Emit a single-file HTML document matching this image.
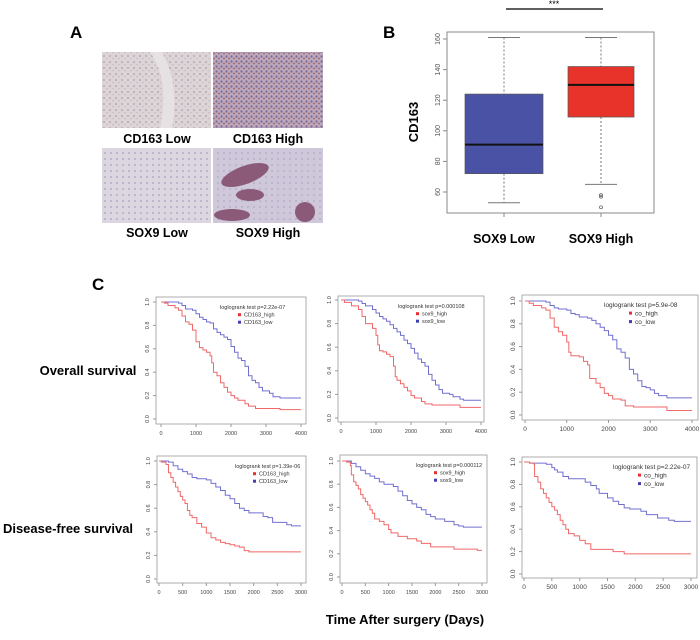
<!DOCTYPE html>
<html><head><meta charset="utf-8"><style>
body{margin:0;background:#fff;width:700px;height:640px;overflow:hidden;font-family:"Liberation Sans",Arial,sans-serif}
svg{display:block}
</style></head><body>
<svg id="fig" width="700" height="640" viewBox="0 0 700 640">
<defs>
<pattern id="tissueA" width="6" height="6" patternUnits="userSpaceOnUse"><rect width="6" height="6" fill="#ddd4d6"/><circle cx="2" cy="2" r="1" fill="#b4a8c0"/><circle cx="5" cy="4.5" r="0.8" fill="#c6b8c8"/></pattern>
<pattern id="tissueB" width="5" height="5" patternUnits="userSpaceOnUse"><rect width="5" height="5" fill="#bba8bc"/><circle cx="1.5" cy="1.5" r="1.1" fill="#7c6898"/><circle cx="4" cy="3.5" r="0.9" fill="#9a6060"/></pattern>
<pattern id="tissueC" width="6" height="6" patternUnits="userSpaceOnUse"><rect width="6" height="6" fill="#dcd6e0"/><circle cx="3" cy="3" r="1" fill="#b6acc8"/></pattern>
<pattern id="tissueD" width="6" height="6" patternUnits="userSpaceOnUse"><rect width="6" height="6" fill="#cfc8da"/><circle cx="2" cy="3" r="0.9" fill="#b0a6c6"/></pattern>
</defs>
<g font-weight="bold" fill="#000">
<text x="70" y="38" font-size="17">A</text>
<text x="383" y="38" font-size="17">B</text>
<text x="92" y="290" font-size="17">C</text>
</g>
<g>
<rect x="102" y="52" width="109" height="76" fill="url(#tissueA)"/>
<path d="M150 52 Q170 80 160 128 L172 128 Q180 85 162 52Z" fill="#e6e2e4"/>
<rect x="213" y="52" width="110" height="76" fill="url(#tissueB)"/>
<rect x="102" y="148" width="109" height="75" fill="url(#tissueC)"/>
<rect x="213" y="148" width="110" height="75" fill="url(#tissueD)"/>
<g fill="#8a5a78">
<ellipse cx="245" cy="175" rx="25" ry="9" transform="rotate(-20 245 175)"/>
<ellipse cx="250" cy="195" rx="14" ry="6"/>
<ellipse cx="232" cy="215" rx="18" ry="6"/>
<ellipse cx="305" cy="212" rx="10" ry="10"/>
</g>
</g>
<g font-size="12.5" font-weight="bold" text-anchor="middle">
<text x="157" y="143">CD163 Low</text>
<text x="268" y="143">CD163 High</text>
<text x="157" y="237">SOX9 Low</text>
<text x="268" y="237">SOX9 High</text>
</g>
<g id="boxplot"></g>
<g id="km"></g>
<g font-size="13" font-weight="bold" text-anchor="middle">
<text x="88" y="375">Overall survival</text>
<text x="68" y="533">Disease-free survival</text>
<text x="405" y="624">Time After surgery (Days)</text>
</g>
</svg>
<script>
const boxGroups = ["SOX9 Low","SOX9 High"];
const boxQ1 = [72,109];
const boxMedian = [91,130];
const boxQ3 = [124,142];
const boxWhiskLow = [53,65];
const boxWhiskHigh = [161,161];
const boxOutliers = [[],[58,57,50]];
const boxTicks = [60,80,100,120,140,160];

const os_cd163_high=[[0,1],[100,.99],[200,.97],[400,.95],[500,.93],[600,.88],[700,.83],[800,.81],[900,.76],[1000,.66],[1100,.61],[1200,.59],[1300,.57],[1400,.54],[1450,.48],[1500,.40],[1600,.37],[1700,.31],[1800,.27],[1900,.23],[2000,.20],[2100,.18],[2200,.16],[2400,.13],[2500,.11],[2700,.09],[3400,.08],[4000,.08]];
const os_cd163_low=[[0,1],[500,.99],[600,.97],[700,.94],[900,.93],[1000,.90],[1100,.87],[1200,.85],[1300,.83],[1400,.82],[1500,.77],[1600,.74],[1700,.72],[1800,.70],[1900,.68],[2000,.62],[2100,.57],[2200,.52],[2300,.50],[2400,.45],[2500,.37],[2600,.33],[2700,.31],[2800,.27],[2900,.24],[3100,.22],[3200,.19],[3400,.18],[4000,.18]];
const os_sox9_high=[[0,1],[100,.98],[300,.95],[500,.92],[600,.86],[700,.80],[900,.76],[1000,.70],[1050,.62],[1100,.57],[1200,.56],[1300,.54],[1400,.52],[1500,.44],[1550,.35],[1600,.32],[1700,.29],[1800,.26],[1900,.23],[2000,.19],[2100,.17],[2300,.14],[2400,.12],[2600,.11],[3400,.09],[4000,.09]];
const os_sox9_low=[[0,1],[500,.99],[600,.97],[700,.95],[900,.92],[1000,.89],[1100,.86],[1200,.84],[1300,.82],[1400,.79],[1500,.76],[1600,.73],[1700,.70],[1800,.66],[1900,.63],[2000,.59],[2100,.55],[2200,.50],[2300,.47],[2400,.44],[2500,.37],[2600,.32],[2700,.28],[2800,.24],[2900,.21],[3100,.20],[3200,.18],[3400,.16],[3500,.15],[4000,.15]];
const os_co_high=[[0,1],[100,.98],[200,.96],[400,.94],[500,.92],[600,.85],[700,.77],[800,.73],[900,.70],[1000,.64],[1050,.55],[1100,.52],[1300,.51],[1400,.47],[1500,.44],[1550,.32],[1700,.28],[1800,.24],[1900,.19],[2000,.17],[2100,.14],[2300,.13],[2400,.08],[2600,.07],[3400,.04],[4000,.04]];
const os_co_low=[[0,1],[500,.99],[600,.96],[700,.94],[800,.93],[1000,.92],[1100,.89],[1200,.88],[1300,.86],[1500,.85],[1600,.83],[1700,.80],[1800,.77],[1900,.74],[2000,.70],[2100,.66],[2200,.58],[2300,.55],[2400,.50],[2500,.40],[2600,.36],[2700,.30],[2800,.25],[2900,.24],[3000,.22],[3100,.19],[3200,.17],[3400,.15],[4000,.15]];
const dfs_cd163_high=[[0,1],[50,.99],[150,.97],[200,.90],[250,.86],[300,.82],[350,.78],[400,.74],[450,.70],[500,.67],[550,.64],[600,.58],[650,.54],[700,.52],[800,.47],[900,.44],[1000,.39],[1100,.35],[1200,.33],[1300,.31],[1400,.30],[1500,.29],[1600,.28],[1700,.27],[1800,.24],[1900,.23],[3000,.23]];
const dfs_cd163_low=[[0,1],[200,.99],[300,.96],[400,.93],[500,.91],[600,.89],[700,.86],[800,.85],[1000,.84],[1100,.81],[1200,.78],[1300,.75],[1400,.71],[1500,.68],[1600,.64],[1700,.60],[1800,.58],[1900,.56],[2200,.53],[2300,.52],[2400,.48],[2700,.46],[2800,.45],[3000,.45]];
const dfs_sox9_high=[[0,1],[100,.99],[180,.96],[200,.88],[250,.82],[300,.79],[350,.76],[400,.71],[450,.68],[500,.65],[550,.62],[600,.58],[650,.55],[700,.50],[800,.48],[900,.45],[1000,.41],[1050,.38],[1200,.35],[1400,.33],[1600,.31],[1700,.29],[1900,.26],[2400,.24],[2900,.23],[3000,.23]];
const dfs_sox9_low=[[0,1],[200,.98],[300,.95],[400,.92],[500,.89],[600,.87],[700,.85],[800,.82],[900,.80],[1100,.78],[1200,.74],[1300,.70],[1400,.66],[1500,.63],[1600,.60],[1700,.58],[1800,.54],[1900,.52],[2000,.50],[2200,.48],[2400,.45],[2500,.44],[2600,.43],[3000,.43]];
const dfs_co_high=[[0,1],[100,.99],[180,.98],[190,.87],[250,.82],[300,.76],[350,.72],[400,.68],[450,.64],[500,.60],[550,.57],[600,.53],[650,.48],[700,.44],[750,.40],[800,.36],[900,.34],[1000,.30],[1100,.27],[1200,.22],[1600,.20],[1800,.18],[3000,.18]];
const dfs_co_low=[[0,1],[100,.99],[400,.98],[500,.95],[550,.93],[600,.91],[700,.87],[800,.85],[1050,.85],[1100,.82],[1200,.79],[1300,.76],[1350,.72],[1500,.68],[1600,.65],[1700,.62],[1800,.59],[1900,.58],[2100,.56],[2200,.53],[2400,.50],[2600,.48],[2700,.47],[3000,.47]];
const pValues = ["2.22e-07","0.000108","5.9e-08","1.39e-06","0.000112","2.22e-07"];
const groupNames = ["CD163","sox9","co","CD163","sox9","co"];
const osTicks=[0,1000,2000,3000,4000];
const dfsTicks=[0,500,1000,1500,2000,2500,3000];
const yTicks=[0,0.2,0.4,0.6,0.8,1.0];

const NS="http://www.w3.org/2000/svg";
function mk(tag,attrs,parent,text){const e=document.createElementNS(NS,tag);for(const k in attrs)e.setAttribute(k,attrs[k]);if(text!==undefined)e.textContent=text;parent.appendChild(e);return e;}

(function(){
  const g=document.getElementById('boxplot');
  const y=v=>39+(160-v)*1.53;
  const cx=[504,601], hw=[39,33], colors=["#4a52a6","#e8332a"];
  const fr=mk('rect',{x:447,y:32,width:207,height:181,fill:'none',stroke:'#888','stroke-width':1},g);
  
  
  boxTicks.forEach(t=>{
    mk('line',{x1:443,x2:447,y1:y(t),y2:y(t),stroke:'#888'},g);
    const tx=mk('text',{x:440,y:y(t),'font-size':7,fill:'#555','text-anchor':'middle',transform:`rotate(-90 440 ${y(t)})`},g,String(t));
    
    
  });
  boxGroups.forEach((name,i)=>{
    const c=cx[i];
    mk('line',{x1:c,x2:c,y1:y(boxWhiskHigh[i]),y2:y(boxQ3[i]),stroke:'#777','stroke-dasharray':'2,2'},g);
    mk('line',{x1:c,x2:c,y1:y(boxQ1[i]),y2:y(boxWhiskLow[i]),stroke:'#777','stroke-dasharray':'2,2'},g);
    mk('line',{x1:c-16,x2:c+16,y1:y(boxWhiskHigh[i]),y2:y(boxWhiskHigh[i]),stroke:'#777'},g);
    mk('line',{x1:c-16,x2:c+16,y1:y(boxWhiskLow[i]),y2:y(boxWhiskLow[i]),stroke:'#777'},g);
    const b=mk('rect',{x:c-hw[i],y:y(boxQ3[i]),width:hw[i]*2,height:y(boxQ1[i])-y(boxQ3[i]),fill:colors[i],stroke:'#555','stroke-width':0.7},g);
    
    
    mk('line',{x1:c-hw[i],x2:c+hw[i],y1:y(boxMedian[i]),y2:y(boxMedian[i]),stroke:'#111','stroke-width':2},g);
    boxOutliers[i].forEach(o=>{const oc=mk('circle',{cx:c,cy:y(o),r:1.5,fill:'none',stroke:'#555','stroke-width':0.7},g);
      
      });
    mk('line',{x1:c,x2:c,y1:213,y2:217,stroke:'#888'},g);
    const l=mk('text',{x:c,y:243,'font-size':12.5,'font-weight':'bold','text-anchor':'middle'},g,name);
    
    
  });
  const yl=mk('text',{x:418,y:122,'font-size':13,'font-weight':'bold','text-anchor':'middle',transform:'rotate(-90 418 122)'},g,'CD163');
  
  
  mk('line',{x1:506,x2:603,y1:9,y2:9,stroke:'#000','stroke-width':1.2},g);
  const st=mk('text',{x:554,y:7,'font-size':9,'text-anchor':'middle'},g,'***');
  
  
})();

const panels=[
 {x0:161,x1:301,y1:302,y0:419,f:[156,297,306,424],max:4000,ticks:osTicks,hi:os_cd163_high,lo:os_cd163_low,fs:5.5,lx:220},
 {x0:341,x1:481,y1:300,y0:418,f:[338,296,484,422],max:4000,ticks:osTicks,hi:os_sox9_high,lo:os_sox9_low,fs:5.5,lx:398},
 {x0:525,x1:692,y1:301,y0:415,f:[522,295,698,420],max:4000,ticks:osTicks,hi:os_co_high,lo:os_co_low,fs:6.5,lx:604},
 {x0:159,x1:301,y1:461,y0:579,f:[157,456,306,583],max:3000,ticks:dfsTicks,hi:dfs_cd163_high,lo:dfs_cd163_low,fs:5.5,lx:235},
 {x0:342,x1:482,y1:461,y0:577,f:[340,455,487,583],max:3000,ticks:dfsTicks,hi:dfs_sox9_high,lo:dfs_sox9_low,fs:5.5,lx:416},
 {x0:524,x1:691,y1:462,y0:574,f:[522,457,697,578],max:3000,ticks:dfsTicks,hi:dfs_co_high,lo:dfs_co_low,fs:6.5,lx:613}
];
const kmRoot=document.getElementById('km');
panels.forEach((p,i)=>{
  const g=mk('g',{},kmRoot);
  
  
  const sx=t=>p.x0+(p.x1-p.x0)*t/p.max, sy=s=>p.y0-(p.y0-p.y1)*s;
  const fr=mk('rect',{x:p.f[0],y:p.f[1],width:p.f[2]-p.f[0],height:p.f[3]-p.f[1],fill:'none',stroke:'#999','stroke-width':0.8},g);
  
  
  p.ticks.forEach(t=>{
    mk('line',{x1:sx(t),x2:sx(t),y1:p.f[3],y2:p.f[3]+3,stroke:'#999'},g);
    const tx=mk('text',{x:sx(t),y:p.f[3]+11,'font-size':p.fs,fill:'#444','text-anchor':'middle'},g,String(t));
    
    
  });
  yTicks.forEach(t=>{
    mk('line',{x1:p.f[0]-3,x2:p.f[0],y1:sy(t),y2:sy(t),stroke:'#999'},g);
    const X=p.f[0]-7;
    const tx=mk('text',{x:X,y:sy(t),'font-size':p.fs,fill:'#444','text-anchor':'middle',transform:`rotate(-90 ${X} ${sy(t)})`},g,t.toFixed(1));
    
    
  });
  function step(data,color,name){
    let d='M'+sx(data[0][0])+' '+sy(data[0][1]);
    for(let k=1;k<data.length;k++){d+=' H'+sx(data[k][0])+' V'+sy(data[k][1]);}
    const path=mk('path',{d:d,fill:'none',stroke:color,'stroke-width':1},g);
    
    
  }
  step(p.lo,'#7070d0','km-curve-low');
  step(p.hi,'#f06868','km-curve-high');
  const ly=p.f[1]+12;
  const lt=mk('text',{x:p.lx,y:ly,'font-size':p.fs,fill:'#333'},g,'loglogrank test p='+pValues[i]);
  
  
  const lh=p.fs+2;
  [['_high','#e83030'],['_low','#4040b0']].forEach(([suf,c],k)=>{
    const yy=ly+lh*(k+1);
    const bx=p.lx+(p.fs>6?25:18);
    mk('rect',{x:bx,y:yy-p.fs*0.6,width:3,height:3,fill:c},g);
    const et=mk('text',{x:bx+6,y:yy,'font-size':p.fs,fill:'#333'},g,groupNames[i]+suf);
    
    
  });
});
</script>
</body></html>
